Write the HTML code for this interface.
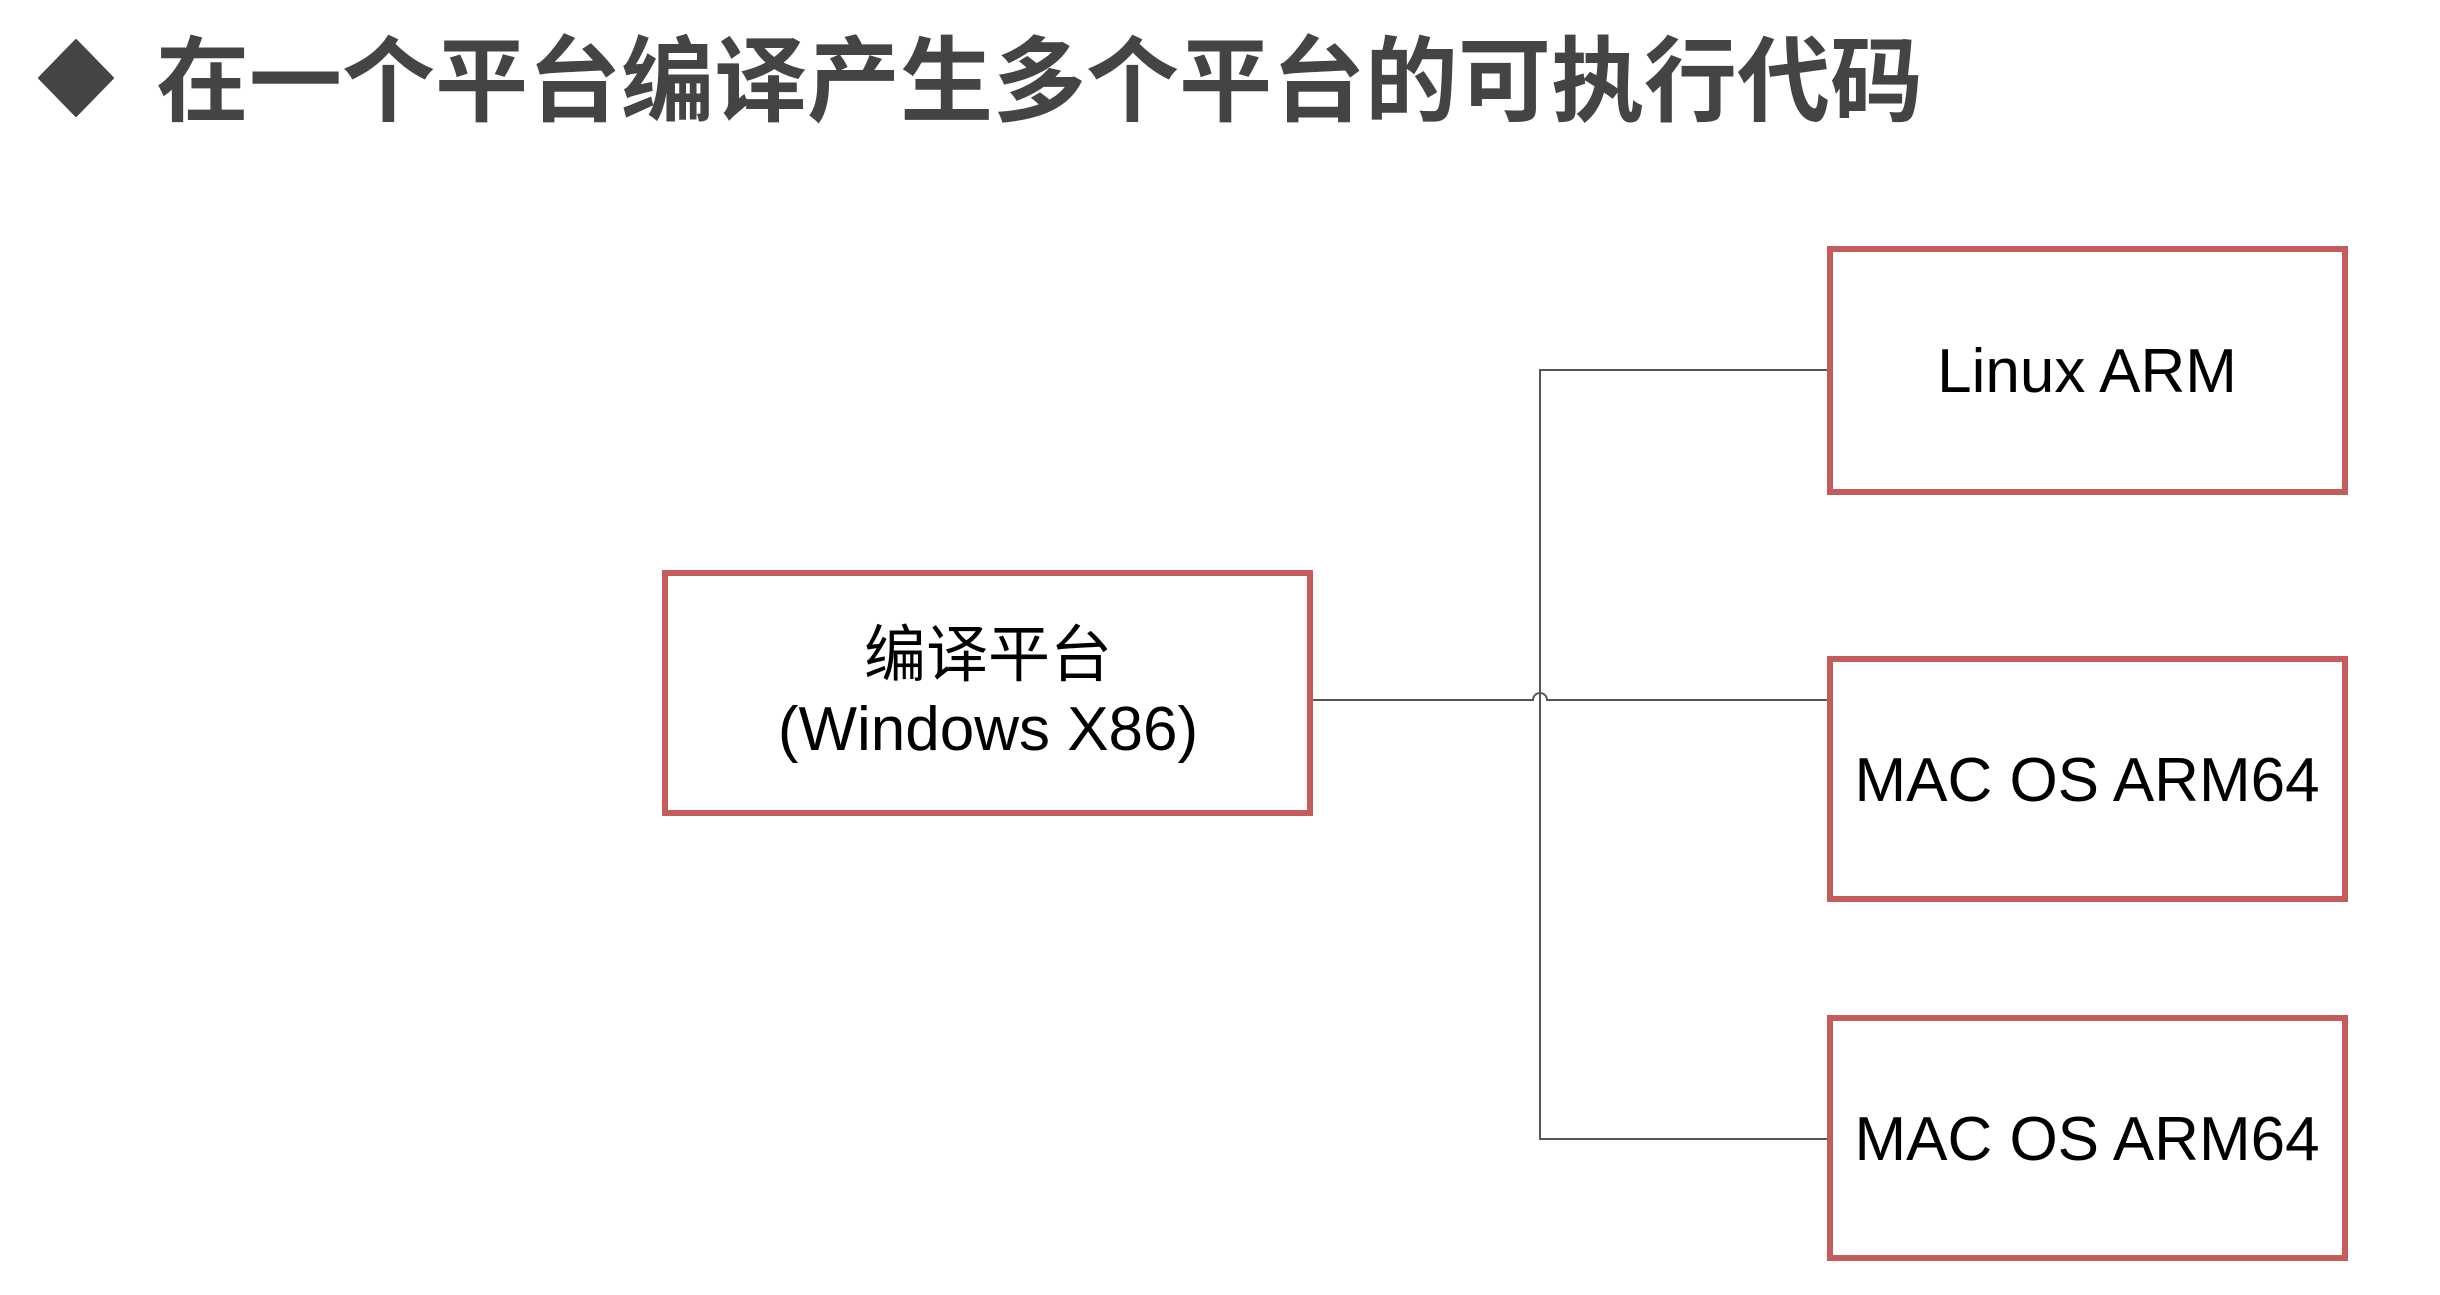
<!DOCTYPE html>
<html><head><meta charset="utf-8"><style>
html,body{margin:0;padding:0;background:#fff;}
body{width:2440px;height:1290px;overflow:hidden;}
</style></head><body>
<svg width="2440" height="1290" xmlns="http://www.w3.org/2000/svg">
<polygon points="76,40 113,78 76,116 39,78" fill="#444" stroke="#444" stroke-width="2" stroke-linejoin="round"/>
<text x="156" y="114" font-family="'Liberation Sans','Noto Sans CJK SC',sans-serif" font-weight="bold" font-size="93" fill="#444">在一个平台编译产生多个平台的可执行代码</text>
<g stroke="#555" stroke-width="2" fill="none">
<path d="M1313,700 H1533 A7,7 0 0 1 1547,700 H1827"/>
<path d="M1827,370 H1540 V1139 H1827"/>
</g>
<g stroke="#c65b5b" stroke-width="6" fill="#fff">
<rect x="665" y="573" width="645" height="240"/>
<rect x="1830" y="249" width="515" height="243"/>
<rect x="1830" y="659" width="515" height="240"/>
<rect x="1830" y="1018" width="515" height="240"/>
</g>
<g font-family="'Liberation Sans','Noto Sans CJK SC',sans-serif" font-size="62" fill="#000" text-anchor="middle">
<text x="988" y="676">编译平台</text>
<text x="988" y="750">(Windows X86)</text>
<text x="2087" y="392">Linux ARM</text>
<text x="2087" y="801">MAC OS ARM64</text>
<text x="2087" y="1160">MAC OS ARM64</text>
</g>
</svg>
</body></html>
